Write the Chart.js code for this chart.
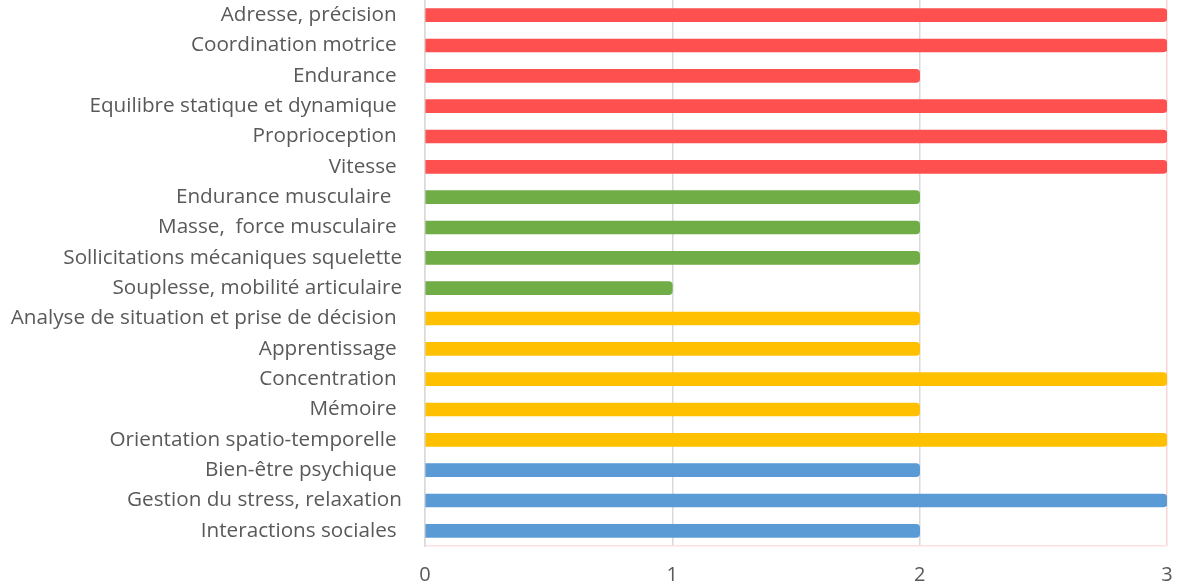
<!DOCTYPE html>
<html>
<head>
<meta charset="utf-8">
<script src="https://cdn.jsdelivr.net/npm/chart.js@4/dist/chart.umd.min.js"></script>
<style>
  html, body { margin: 0; padding: 0; background: #ffffff; }
  #wrap { width: 1180px; height: 585px; }
</style>
</head>
<body>
<div id="wrap"><canvas id="c"></canvas></div>
<script>
const categories = [
  "Adresse, précision ",
  "Coordination motrice ",
  "Endurance ",
  "Equilibre statique et dynamique ",
  "Proprioception ",
  "Vitesse ",
  "Endurance musculaire  ",
  "Masse,  force musculaire ",
  "Sollicitations mécaniques squelette",
  "Souplesse, mobilité articulaire",
  "Analyse de situation et prise de décision ",
  "Apprentissage ",
  "Concentration ",
  "Mémoire ",
  "Orientation spatio-temporelle ",
  "Bien-être psychique ",
  "Gestion du stress, relaxation",
  "Interactions sociales "
];
const values = [3, 3, 2, 3, 3, 3, 2, 2, 2, 1, 2, 2, 3, 2, 3, 2, 3, 2];
const groups = ["red","red","red","red","red","red","green","green","green","green","yellow","yellow","yellow","yellow","yellow","blue","blue","blue"];
const groupColors = { red: "#FF5050", green: "#70AD47", yellow: "#FFC000", blue: "#5B9BD5" };
const xTicks = [0, 1, 2, 3];

const barColors = groups.map(g => groupColors[g]);
const FONT = "Open Sans";

new Chart(document.getElementById("c"), {
  type: "bar",
  data: {
    labels: categories,
    datasets: [{
      data: values,
      backgroundColor: barColors,
      borderWidth: 0,
      barThickness: 13,
      borderRadius: { topRight: 4, bottomRight: 4, topLeft: 0, bottomLeft: 0 },
      borderSkipped: "start"
    }]
  },
  options: {
    indexAxis: "y",
    responsive: true,
    maintainAspectRatio: false,
    animation: false,
    layout: { padding: { top: 0, right: 13, bottom: 0, left: 0 } },
    plugins: { legend: { display: false }, tooltip: { enabled: false } },
    scales: {
      x: {
        min: 0, max: 3,
        afterBuildTicks: s => { s.ticks = xTicks.map(v => ({ value: v })); },
        afterFit: s => { s.paddingRight = 0; s.paddingLeft = 0; s.height = 39; },
        grid: {
          color: ctx => (ctx.tick && ctx.tick.value === 3) ? "#F9D5D5" : "#D9D9D9",
          lineWidth: 1.5,
          drawTicks: false
        },
        border: { display: true, color: "#FBE0E0", width: 1.5 },
        ticks: {
          color: "#595959",
          font: { family: FONT, size: 20 },
          padding: 17
        }
      },
      y: {
        grid: { display: false, drawTicks: false },
        border: { display: true, color: "#D9D9D9", width: 1.5 },
        afterFit: s => { s.width = 425; s.paddingTop = 0; s.paddingBottom = 0; },
        ticks: {
          color: "#595959",
          font: { family: FONT, size: 20.7 },
          padding: 23,
          autoSkip: false
        }
      }
    }
  }
});
</script>
</body>
</html>
